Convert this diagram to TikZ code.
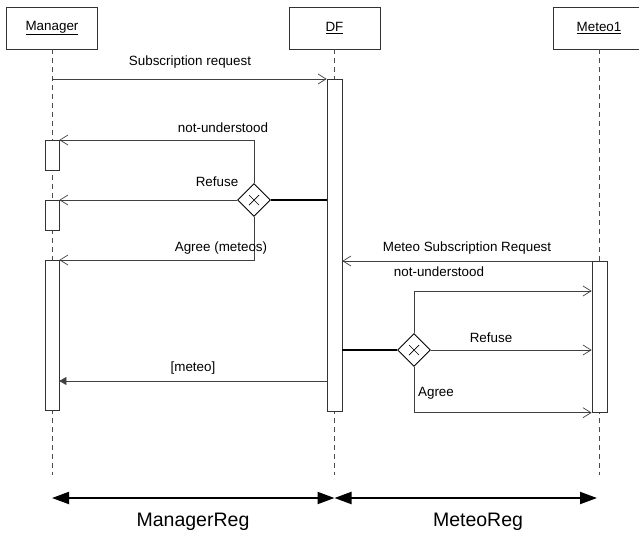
\documentclass[tikz,border=0pt]{standalone}
\usepackage{fontspec}
\setmainfont{Liberation Sans}
\usetikzlibrary{arrows.meta,shapes.geometric}

\begin{document}
\begin{tikzpicture}[x=1pt,y=-1pt,font=\fontsize{13.4}{15}\selectfont]
	\tikzset{
		oggetto/.style={rectangle, draw=black!80, line width=0.7pt, minimum width=91pt, minimum height=42pt, inner sep=0pt},
		barra/.style={rectangle, draw=black!80, fill=white, line width=0.7pt, minimum width=15pt, inner sep=0pt, anchor=north},
		scelta/.style={diamond, draw, fill=white, line width=0.9pt, minimum width=33pt, minimum height=33pt, inner sep=0pt},
		vita/.style={draw=black!70, line width=0.6pt, dash pattern=on 5pt off 4pt},
		msg/.style={draw=black!75, line width=0.7pt, -{Straight Barb[length=8pt,width=10pt]}},
		risposta/.style={draw=black!75, line width=0.7pt, -{Triangle[length=7pt,width=8pt]}},
		legame/.style={draw, line width=1.8pt},
		durata/.style={draw, line width=2pt, {Triangle[length=17pt,width=12pt]}-{Triangle[length=17pt,width=12pt]}}
	}
	\clip (0,0) rectangle (639,533);
	
	% Oggetti
	\node[oggetto] (mgr) at (52,28) {\underline{Manager}};
	\node[oggetto] (df) at (334.5,28) {\underline{DF}};
	\node[oggetto] (met) at (599,28) {\underline{Meteo1}};
	
	% Linee di vita
	\draw[vita] (mgr.south) -- ++(0,426);
	\draw[vita] (df.south) -- ++(0,426);
	\draw[vita] (met.south) -- ++(0,426);
	
	% Barre di attivazione
	\node[barra, minimum height=332pt] (dfA) at (334.5,79) {};
	\node[barra, minimum width=14pt, minimum height=30pt] (mgrA1) at (52,140) {};
	\node[barra, minimum width=14pt, minimum height=30pt] (mgrA2) at (52,200) {};
	\node[barra, minimum width=14pt, minimum height=150pt] (mgrA3) at (52,260) {};
	\node[barra, minimum height=151pt] (metA) at (599.5,261) {};
	
	% Scelte
	\node[scelta] (d1) at (254,200) {};
	\node[scelta] (d2) at (414,350) {};
	\draw[line width=0.7pt] (d1.center) ++(-5,-5) -- ++(10,10) ++(0,-10) -- ++(-10,10);
	\draw[line width=0.7pt] (d2.center) ++(-5,-5) -- ++(10,10) ++(0,-10) -- ++(-10,10);
	
	% Messaggi
	\draw[msg] (mgr.south |- dfA.north) -- (dfA.north west);
	\draw[legame] (d1.east) -- (dfA.west |- d1.east);
	\draw[msg] (d1.north) |- (mgrA1.north east);
	\draw[msg] (d1.west) -- (mgrA2.north east);
	\draw[msg] (d1.south) |- (mgrA3.north east);
	\draw[msg] (metA.north west) -- (dfA.east |- metA.north west);
	\draw[legame] (dfA.east |- d2.west) -- (d2.west);
	\draw[msg] (d2.north) |- (metA.west |- 0,291);
	\draw[msg] (d2.east) -- (metA.west |- d2.east);
	\draw[msg] (d2.south) |- (metA.south west);
	\draw[risposta] (dfA.west |- 0,381) -- (mgrA3.east |- 0,381);
	
	% Etichette
	\node (tSub) at (190,62) {Subscription request};
	\node (tNu1) at (223,128) {not-understood};
	\node (tRef1) at (217,182) {Refuse};
	\node (tAg1) at (221,248) {Agree (meteos)};
	\node (tMsr) at (467,248) {Meteo Subscription Request};
	\node (tNu2) at (439,272) {not-understood};
	\node (tRef2) at (491,338) {Refuse};
	\node (tAg2) at (436,393) {Agree};
	\node (tMet) at (193,368) {[meteo]};
	
	% Registrazioni
	\coordinate (r0) at (52,498);
	\coordinate (r1) at (334.5,498);
	\coordinate (r2) at (597,498);
	\draw[durata] (r0) -- (r1);
	\draw[durata] (r1) -- (r2);
	\node[font=\fontsize{19.5}{22}\selectfont] (tMgrReg) at (193,522) {ManagerReg};
	\node[font=\fontsize{19.5}{22}\selectfont] (tMetReg) at (478,522) {MeteoReg};
\end{tikzpicture}
\end{document}
